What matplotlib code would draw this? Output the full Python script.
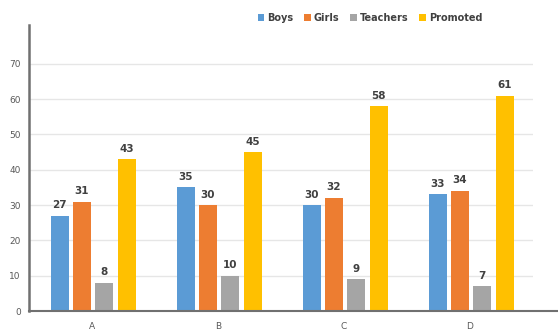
import matplotlib
matplotlib.use("Agg")
import matplotlib.pyplot as plt
import numpy as np

categories = ["A", "B", "C", "D"]
series_names = ["Boys", "Girls", "Teachers", "Promoted"]
boys = [27, 35, 30, 33]
girls = [31, 30, 32, 34]
teachers = [8, 10, 9, 7]
promoted = [43, 45, 58, 61]
colors = ["#5B9BD5", "#ED7D31", "#A5A5A5", "#FFC000"]
yticks = [0, 10, 20, 30, 40, 50, 60, 70]

fig = plt.figure(figsize=(5.58, 3.31), dpi=100)
ax = fig.add_axes([0.052, 0.0604, 0.903, 0.864])

x = np.arange(len(categories))
width = 0.143
pitch = 0.178
all_series = [boys, girls, teachers, promoted]
for i, (name, vals, c) in enumerate(zip(series_names, all_series, colors)):
    pos = x + (i - 1.5) * pitch + 0.01
    bars = ax.bar(pos, vals, width, color=c, label=name, zorder=3)
    for b, v in zip(bars, vals):
        ax.annotate(str(v), (b.get_x() + b.get_width() / 2, v), xytext=(0, 4),
                    textcoords="offset points", ha="center", va="bottom",
                    fontsize=7.5, fontweight="bold", color="#404040")

ax.set_xlim(-0.5, 3.5)
ax.set_ylim(0, 81)
ax.set_yticks(yticks)
ax.set_xticks(x)
ax.set_xticklabels(categories)
ax.tick_params(axis="both", length=0, labelsize=6.5, colors="#595959")
ax.tick_params(axis="x", pad=8)
ax.tick_params(axis="y", pad=6)
ax.grid(axis="y", color="#E6E6E6", linewidth=1, zorder=0)
for s in ["top", "right", "bottom"]:
    ax.spines[s].set_visible(False)
ax.spines["left"].set_color("#707070")
ax.spines["left"].set_linewidth(1.8)
ax.axhline(0, xmin=0, xmax=1.05, color="#707070", linewidth=1.5, clip_on=False, zorder=4)

leg = fig.legend(loc="center", bbox_to_anchor=(0.663, 0.945), ncol=4, frameon=False,
                 fontsize=7, handlelength=0.7, handleheight=0.7, handletextpad=0.3,
                 columnspacing=1.1)
for t in leg.get_texts():
    t.set_fontweight("bold")
    t.set_color("#404040")

fig.savefig("out.png", dpi=100)
